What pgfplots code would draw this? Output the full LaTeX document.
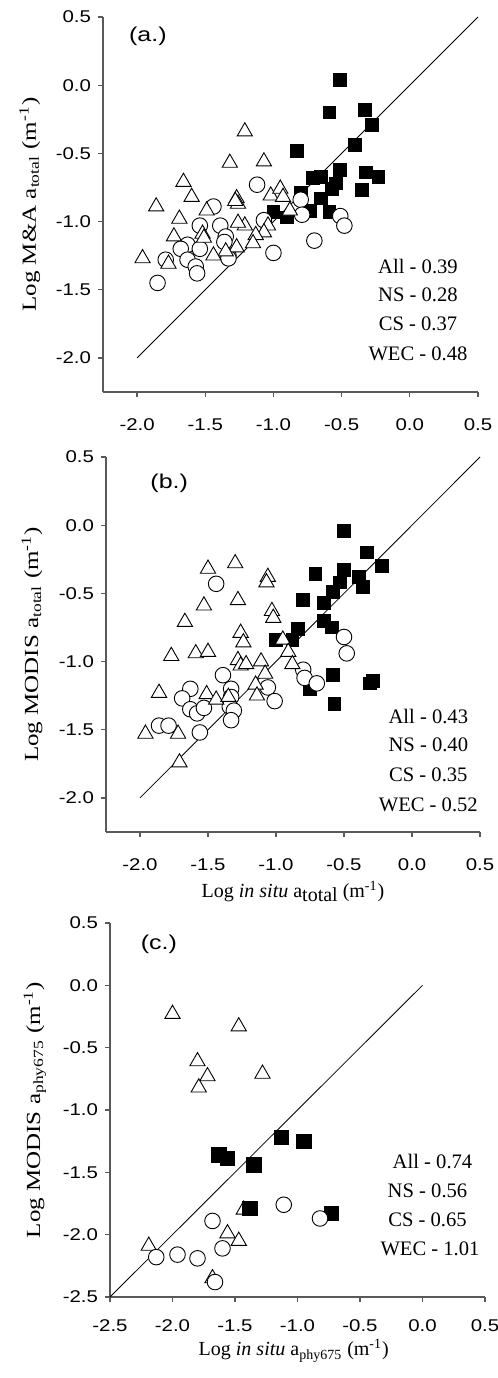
\documentclass[border=0pt]{standalone}
\usepackage{fontspec}
\setmainfont{Liberation Serif}
\newfontfamily\ticksf{Liberation Sans}
\usepackage{graphicx}
\usepackage{pgfplots}
\pgfplotsset{compat=1.18}

% wide sans tick numbers
\newcommand{\widenum}[1]{\scalebox{1.2}[1]{#1}}

\pgfplotsset{
  scatterpanel/.style={
    scale only axis,
    axis x line*=bottom, axis y line*=left,
    axis line style={black!65, line width=0.6pt, -},
    tick style={black!65, line width=0.6pt},
    tick align=outside, major tick length=2.5pt,
    ticklabel style={font=\ticksf\fontsize{8.5}{10}\selectfont},
    /pgf/number format/assume math mode=true,
    /pgf/number format/fixed,
    /pgf/number format/fixed zerofill,
    /pgf/number format/precision=1,
    xticklabel={\widenum{\pgfmathprintnumber{\tick}}},
    yticklabel={\widenum{\pgfmathprintnumber{\tick}}},
    xticklabel style={yshift=-7.5pt},
    clip=false,
    every axis y label/.append style={font=\fontsize{11.5}{13}\selectfont},
    every axis x label/.append style={font=\fontsize{11.5}{13}\selectfont},
  },
  wec/.style={only marks, mark=square*, mark size=3.2pt,
    mark options={fill=black, draw=black, line width=0.4pt}},
  ns/.style={only marks, mark=triangle*, mark size=4.4pt,
    mark options={fill=white, draw=black, line width=0.45pt}},
  cs/.style={only marks, mark=*, mark size=3.9pt,
    mark options={fill=white, draw=black, line width=0.45pt}},
}
\tikzset{
  stat/.style={font=\fontsize{10.3}{12}\selectfont, anchor=center},
  panel/.style={anchor=west, font=\ticksf\fontsize{10}{12}\selectfont},
}
\newcommand{\ylab}[1]{\scalebox{1.25}[1]{#1}}

\begin{document}
\begin{tikzpicture}
\useasboundingbox (0,0) rectangle (249pt,689pt);

% ---------------- (a) M&A vs in situ a_total ----------------
\begin{axis}[scatterpanel,
  at={(51.5pt,493pt)}, anchor=south west,
  width=187.5pt, height=187.5pt,
  xmin=-2.25, xmax=0.5, ymin=-2.25, ymax=0.5,
  xtick={-2,-1.5,-1,-0.5,0,0.5}, ytick={-2,-1.5,-1,-0.5,0,0.5},
  every axis y label/.style={at={(axis description cs:-0.195,0.5)}, rotate=90, anchor=center},
  ylabel={\ylab{Log M\&A a\textsubscript{total} (m\textsuperscript{-1})}},
]
\addplot[black, line width=0.4pt] coordinates {(-2,-2) (0.5,0.5)};
\addplot[wec] coordinates {
 (-0.51,0.04) (-0.59,-0.20) (-0.33,-0.18) (-0.28,-0.29) (-0.40,-0.44)
 (-0.83,-0.48) (-0.51,-0.62) (-0.32,-0.64) (-0.23,-0.67) (-0.71,-0.68)
 (-0.65,-0.67) (-0.54,-0.72) (-0.57,-0.76) (-0.35,-0.77) (-0.80,-0.79)
 (-0.65,-0.83) (-0.73,-0.92) (-0.59,-0.93) (-1.00,-0.93) (-0.90,-0.97)};
\addplot[cs] coordinates {
 (-1.12,-0.73) (-1.44,-0.89) (-1.54,-1.03) (-1.39,-1.03) (-1.35,-1.11)
 (-1.63,-1.17) (-1.68,-1.20) (-1.54,-1.20) (-1.63,-1.28) (-1.79,-1.28)
 (-1.57,-1.33) (-1.56,-1.38) (-1.85,-1.45) (-1.33,-1.25) (-1.00,-1.23)
 (-1.07,-0.99) (-0.80,-0.84) (-0.79,-0.95) (-0.51,-0.96) (-0.48,-1.03)
 (-0.70,-1.14) (-1.33,-1.27) (-1.36,-1.15)};
\addplot[ns] coordinates {
 (-1.21,-0.34) (-1.32,-0.57) (-1.07,-0.56) (-1.66,-0.71) (-1.60,-0.82)
 (-1.86,-0.89) (-1.49,-0.92) (-1.69,-0.98) (-1.73,-1.11) (-1.96,-1.27)
 (-1.77,-1.31) (-1.52,-1.09) (-1.51,-1.12) (-1.27,-0.83) (-1.26,-0.87)
 (-1.02,-0.81) (-0.95,-0.76) (-0.93,-0.82) (-0.88,-0.92) (-1.04,-1.03)
 (-1.07,-1.08) (-1.13,-1.10) (-1.15,-1.16) (-1.21,-1.03) (-1.26,-1.01)
 (-1.27,-1.19) (-1.35,-1.22) (-1.44,-1.25) (-1.28,-0.85)};
\node[panel] at (axis cs:-2.11,0.355) {\scalebox{1.25}[1]{(a.)}};
\node[stat] at (axis cs:0.06,-1.333) {All - 0.39};
\node[stat] at (axis cs:0.06,-1.540) {NS - 0.28};
\node[stat] at (axis cs:0.06,-1.748) {CS - 0.37};
\node[stat] at (axis cs:0.06,-1.973) {WEC - 0.48};
\end{axis}

% ---------------- (b) MODIS vs in situ a_total ----------------
\begin{axis}[scatterpanel,
  at={(53pt,273pt)}, anchor=south west,
  width=187pt, height=187.5pt,
  xmin=-2.25, xmax=0.5, ymin=-2.25, ymax=0.5,
  xtick={-2,-1.5,-1,-0.5,0,0.5}, ytick={-2,-1.5,-1,-0.5,0,0.5},
  every axis y label/.style={at={(axis description cs:-0.198,0.5)}, rotate=90, anchor=center},
  every axis x label/.style={at={(axis description cs:0.5,0)}, anchor=base, yshift=-33pt},
  ylabel={\ylab{Log MODIS a\textsubscript{total} (m\textsuperscript{-1})}},
  xlabel={Log \textit{in situ} a\raisebox{-0.35ex}{total} (m\textsuperscript{-1})},
]
\addplot[black, line width=0.4pt] coordinates {(-2,-2) (0.5,0.5)};
\addplot[wec] coordinates {
 (-0.50,-0.04) (-0.33,-0.20) (-0.22,-0.30) (-0.50,-0.33) (-0.39,-0.38)
 (-0.36,-0.45) (-0.53,-0.42) (-0.71,-0.36) (-0.58,-0.49) (-0.80,-0.55)
 (-0.65,-0.57) (-0.65,-0.70) (-0.59,-0.75) (-0.84,-0.76) (-1.00,-0.84)
 (-0.88,-0.84) (-0.58,-1.10) (-0.29,-1.14) (-0.31,-1.16) (-0.75,-1.20)
 (-0.57,-1.31)};
\addplot[cs] coordinates {
 (-1.44,-0.43) (-1.39,-1.10) (-1.63,-1.20) (-1.69,-1.27) (-1.63,-1.35)
 (-1.58,-1.38) (-1.53,-1.34) (-1.33,-1.20) (-1.33,-1.26) (-1.34,-1.33)
 (-1.31,-1.36) (-1.33,-1.43) (-1.86,-1.47) (-1.79,-1.47) (-1.56,-1.52)
 (-1.06,-1.19) (-1.01,-1.29) (-0.80,-1.06) (-0.79,-1.12) (-0.70,-1.16)
 (-0.50,-0.82) (-0.48,-0.94)};
\addplot[ns] coordinates {
 (-1.30,-0.28) (-1.50,-0.32) (-1.06,-0.38) (-1.07,-0.42) (-1.53,-0.59)
 (-1.28,-0.55) (-1.03,-0.63) (-1.02,-0.68) (-1.67,-0.71) (-1.26,-0.79)
 (-1.24,-0.86) (-1.77,-0.96) (-1.59,-0.94) (-1.50,-0.93) (-1.28,-0.99)
 (-1.26,-1.03) (-1.22,-1.02) (-1.11,-1.00) (-1.08,-1.09) (-1.15,-1.17)
 (-1.14,-1.25) (-0.95,-0.84) (-0.91,-0.93) (-0.88,-1.02) (-1.86,-1.23)
 (-1.51,-1.24) (-1.44,-1.28) (-1.35,-1.26) (-1.96,-1.53) (-1.72,-1.53)
 (-1.71,-1.74)};
\node[panel] at (axis cs:-1.975,0.305) {\scalebox{1.25}[1]{(b.)}};
\node[stat] at (axis cs:0.12,-1.406) {All - 0.43};
\node[stat] at (axis cs:0.12,-1.614) {NS - 0.40};
\node[stat] at (axis cs:0.12,-1.834) {CS - 0.35};
\node[stat] at (axis cs:0.12,-2.054) {WEC - 0.52};
\end{axis}

% ---------------- (c) MODIS vs in situ a_phy675 ----------------
\begin{axis}[scatterpanel,
  at={(55pt,40.5pt)}, anchor=south west,
  width=187.5pt, height=187pt,
  xmin=-2.5, xmax=0.5, ymin=-2.5, ymax=0.5,
  xtick={-2.5,-2,-1.5,-1,-0.5,0,0.5}, ytick={-2.5,-2,-1.5,-1,-0.5,0,0.5},
  xticklabel style={yshift=2pt},
  every axis y label/.style={at={(axis description cs:-0.2,0.5)}, rotate=90, anchor=center},
  every axis x label/.style={at={(axis description cs:0.49,0)}, anchor=base, yshift=-29.5pt},
  ylabel={\ylab{Log MODIS a\textsubscript{phy675} (m\textsuperscript{-1})}},
  xlabel={Log \textit{in situ} a\textsubscript{phy675} (m\textsuperscript{-1})},
]
\addplot[black, line width=0.4pt] coordinates {(-2.5,-2.5) (0,0)};
\addplot[ns] coordinates {
 (-2.00,-0.23) (-1.47,-0.33) (-1.80,-0.61) (-1.72,-0.73) (-1.79,-0.82)
 (-1.28,-0.71) (-1.43,-1.80) (-1.56,-1.99) (-1.47,-2.05) (-2.19,-2.09)
 (-1.68,-2.35)};
\addplot[wec, mark size=3.6pt] coordinates {
 (-1.13,-1.22) (-0.95,-1.25) (-1.63,-1.36) (-1.56,-1.39) (-1.35,-1.44)
 (-1.38,-1.79) (-0.73,-1.83)};
\addplot[cs] coordinates {
 (-1.11,-1.76) (-0.82,-1.87) (-1.68,-1.89) (-1.60,-2.11) (-2.13,-2.18)
 (-1.96,-2.16) (-1.80,-2.19) (-1.66,-2.38)};
\node[panel] at (axis cs:-2.31,0.326) {\scalebox{1.25}[1]{(c.)}};
\node[stat] at (axis cs:0.08,-1.412) {All - 0.74};
\node[stat] at (axis cs:0.04,-1.652) {NS - 0.56};
\node[stat] at (axis cs:0.04,-1.880) {CS - 0.65};
\node[stat] at (axis cs:0.06,-2.115) {WEC - 1.01};
\end{axis}
\end{tikzpicture}
\end{document}
